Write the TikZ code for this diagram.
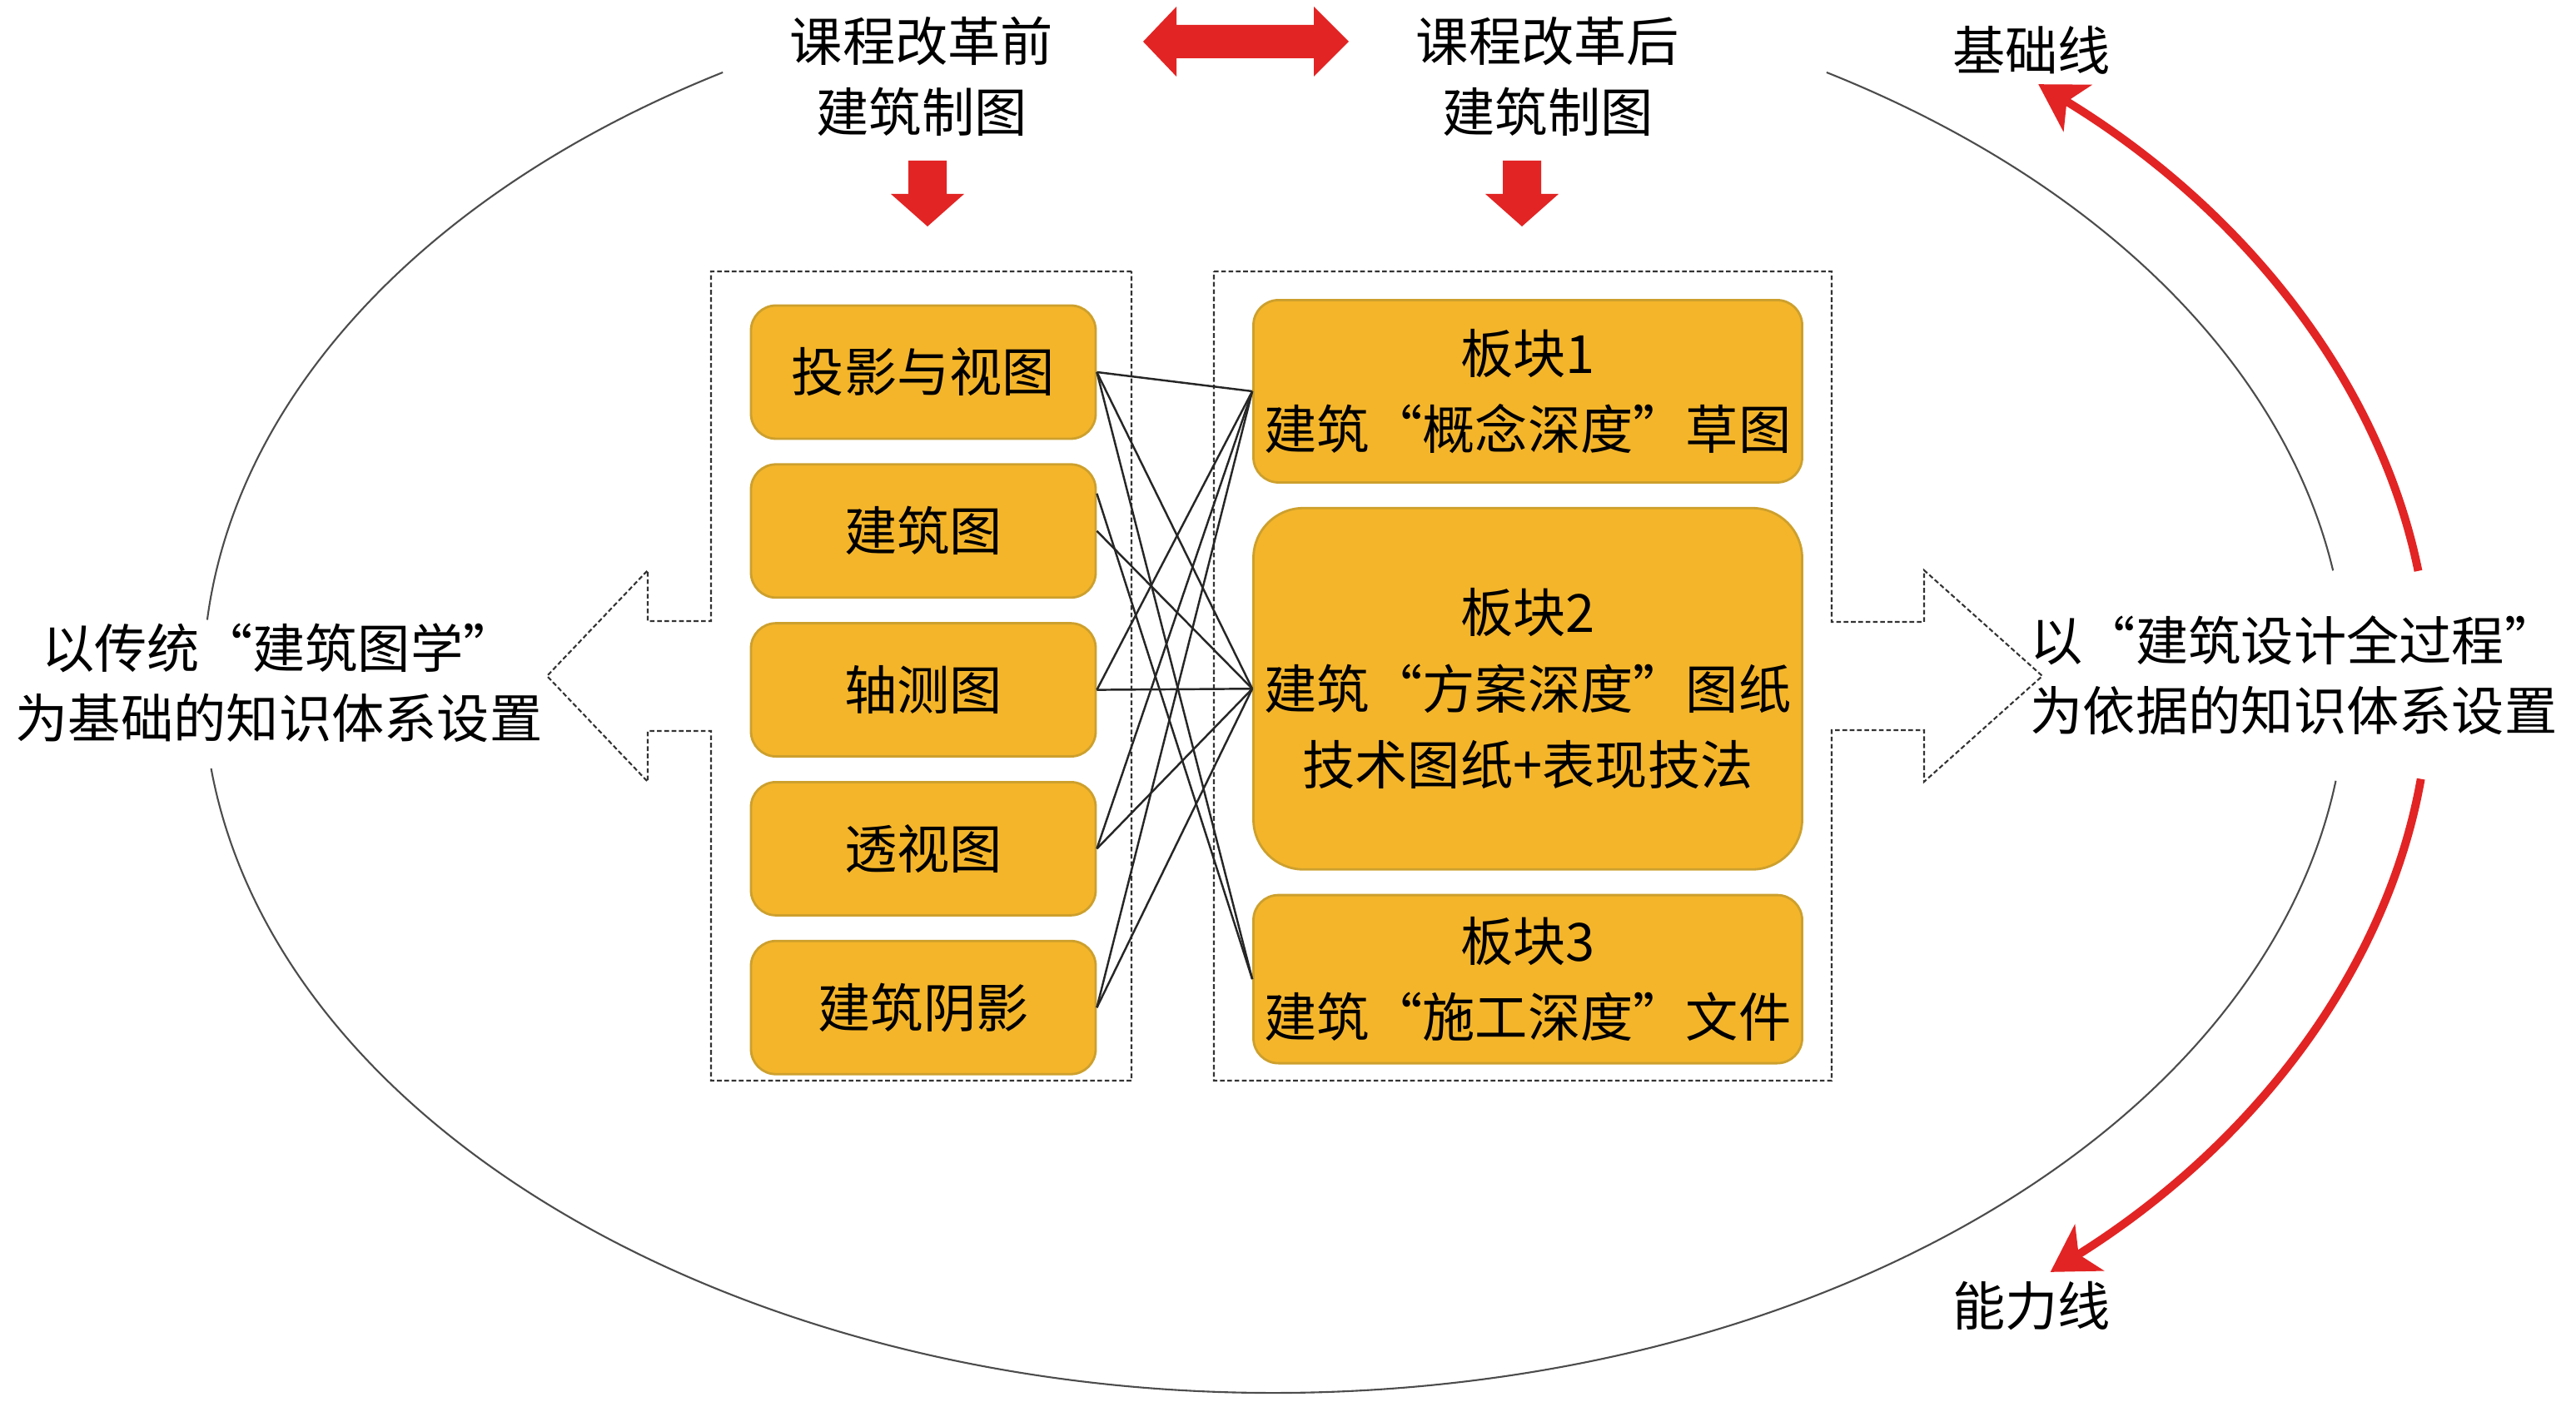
\documentclass[tikz,border=0pt]{standalone}
\usepackage{fontspec}
\setmainfont{Noto Sans CJK SC}
\usepackage{xcolor}
\usetikzlibrary{arrows.meta, positioning, calc}
\definecolor{boxfill}{RGB}{244,181,42}
\definecolor{boxedge}{RGB}{205,160,45}
\definecolor{arrowred}{RGB}{226,36,36}

\begin{document}
\begin{tikzpicture}[
  font=\fontsize{18}{26}\selectfont,
  oldbox/.style={draw=boxedge, fill=boxfill, line width=0.8pt, rounded corners=3mm,
    minimum width=4.14cm, minimum height=1.6cm},
  newbox/.style={oldbox, minimum width=6.59cm, align=center, inner sep=1pt},
  headtext/.style={align=center, font=\fontsize{18}{24}\selectfont},
  link/.style={draw=black!85, line width=0.7pt},
  frameline/.style={draw=black!80, line width=0.6pt, dash pattern=on 1.6pt off 0.9pt},
  oval/.style={draw=black!70, line width=0.6pt},
  redarc/.style={draw=arrowred, line width=2.8pt, -{Stealth[length=5.5mm, width=6.5mm, inset=1.5mm]}},
  node distance=0.28cm
]
\useasboundingbox (0,0) rectangle (30.94,16.84);

% Big oval
\coordinate (ctr) at (15.31,8.65);
\draw[oval] ([shift={(121:12.87 and 8.54)}]ctr) arc[start angle=121, end angle=175, x radius=12.87, y radius=8.54];
\draw[oval] ([shift={(187:12.87 and 8.54)}]ctr) arc[start angle=187, end angle=352, x radius=12.87, y radius=8.54];
\draw[oval] ([shift={(9:12.87 and 8.54)}]ctr) arc[start angle=9, end angle=59, x radius=12.87, y radius=8.54];

% Red curved arrows
\draw[redarc] ([shift={(8:13.87 and 9.57)}]ctr) arc[start angle=8, end angle=48.6, x radius=13.87, y radius=9.57];
\draw[redarc] ([shift={(-7:13.87 and 9.57)}]ctr) arc[start angle=-7, end angle=-47.8, x radius=13.87, y radius=9.57];
\node (base) at (24.40,16.24) {基础线};
\node (ability) at (24.40,1.15) {能力线};

% Titles and red arrows
\node[headtext] (before) at (11.07,15.92) {课程改革前\\建筑制图};
\node[headtext] (after) at (18.59,15.92) {课程改革后\\建筑制图};
\fill[arrowred] (13.73,16.34) -- (14.13,16.76) -- (14.13,16.54) -- (15.78,16.54) -- (15.78,16.76)
  -- (16.20,16.34) -- (15.78,15.92) -- (15.78,16.14) -- (14.13,16.14) -- (14.13,15.92) -- cycle;
\foreach \x in {11.14,18.28} {
  \fill[arrowred] ({\x-0.23},14.91) -- ({\x+0.23},14.91) -- ({\x+0.23},14.51) -- ({\x+0.44},14.51)
    -- (\x,14.12) -- ({\x-0.44},14.51) -- ({\x-0.23},14.51) -- cycle;
}

% Dashed frames with hollow arrows
\draw[frameline] (13.59,13.58) -- (8.54,13.58) -- (8.54,9.38) -- (7.78,9.38) -- (7.78,9.99) -- (6.57,8.72)
  -- (7.78,7.45) -- (7.78,8.06) -- (8.54,8.06) -- (8.54,3.86) -- (13.59,3.86) -- cycle;
\draw[frameline] (14.58,13.58) -- (22.00,13.58) -- (22.00,9.37) -- (23.11,9.37) -- (23.11,9.99) -- (24.53,8.72)
  -- (23.11,7.45) -- (23.11,8.07) -- (22.00,8.07) -- (22.00,3.86) -- (14.58,3.86) -- cycle;

% Side texts
\node[headtext] (lside) at (3.35,8.64) {以传统“建筑图学”\\为基础的知识体系设置};
\node[headtext] (rside) at (27.55,8.73) {以“建筑设计全过程”\\为依据的知识体系设置};

% Old course blocks
\node[oldbox] (old1) at (11.09,12.37) {投影与视图};
\node[oldbox, below=of old1] (old2) {建筑图};
\node[oldbox, below=of old2] (old3) {轴测图};
\node[oldbox, below=of old3] (old4) {透视图};
\node[oldbox, below=of old4] (old5) {建筑阴影};

% New course blocks
\node[newbox, minimum height=2.19cm] (new1) at (18.35,12.14) {板块1\\建筑“概念深度”草图};
\node[newbox, minimum height=4.34cm, rounded corners=6mm, below=of new1] (new2)
  {板块2\\建筑“方案深度”图纸\\技术图纸+表现技法};
\node[newbox, minimum height=2.02cm, below=of new2] (new3) {板块3\\建筑“施工深度”文件};

% Links
\foreach \a/\b in {old1/new1, old1/new2, old1/new3, old2/new2, old3/new1, old3/new2,
  old4/new1, old4/new2, old5/new1, old5/new2}
  \draw[link] (\a.east) -- (\b.west);
\draw[link] ([yshift=4.5mm]old2.east) -- (new3.west);

\end{tikzpicture}
\end{document}
